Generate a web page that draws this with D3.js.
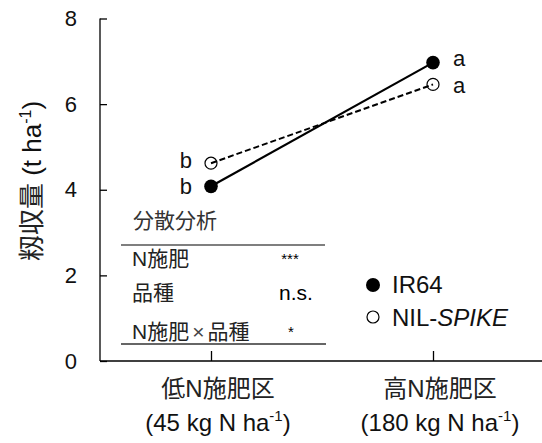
<!doctype html>
<html>
<head>
<meta charset="utf-8">
<script src="https://cdnjs.cloudflare.com/ajax/libs/d3/7.8.5/d3.min.js"></script>
<style>
  body { margin: 0; background: #fff; }
  svg { display: block; font-family: "Liberation Sans", Arial, "Noto Sans CJK JP", sans-serif; }
</style>
</head>
<body>
<svg width="542" height="443"></svg>
<script>
// data
var categories = ["低N施肥区", "高N施肥区"];
var catSub = ["45", "180"];
var ir64 = [4.08, 6.97];
var nilSpike = [4.62, 6.46];
var ir64Letters = ["b", "a"];
var nilLetters = ["b", "a"];
var yTicks = [0, 2, 4, 6, 8];
var anovaRows = ["N施肥", "品種", "N施肥×品種"];
var anovaSig = ["***", "n.s.", "*"];

var svg = d3.select("svg");
var x = d3.scalePoint().domain(categories).range([211, 433]);
var y = d3.scaleLinear().domain([0, 8]).range([361, 18.5]);

// axes
var yAxis = d3.axisLeft(y).tickValues(yTicks).tickSize(-7).tickPadding(23).tickFormat(d3.format("d"));
var gy = svg.append("g").attr("transform", "translate(100,0)").call(yAxis);
gy.select(".domain").attr("d", "M0," + y(8) + "V" + y(0)).attr("stroke-width", 1.3);
gy.selectAll(".tick line").attr("stroke-width", 1.3);
gy.selectAll(".tick text").attr("font-size", 22).attr("font-family", "Liberation Sans, Arial").attr("fill", "#111");

var xAxis = d3.axisBottom(x).tickSize(-10).tickFormat("");
var gx = svg.append("g").attr("transform", "translate(0," + y(0) + ")").call(xAxis);
gx.select(".domain").attr("d", "M100,0H542").attr("stroke-width", 1.3);
gx.selectAll(".tick line").attr("stroke-width", 1.3);

// x labels
categories.forEach(function (c, i) {
  var cx = x(c) + 7;
  svg.append("text").attr("x", cx).attr("y", 397).attr("text-anchor", "middle")
    .attr("font-size", 24).attr("fill", "#222").text(c);
  var t = svg.append("text").attr("x", cx).attr("y", 431).attr("text-anchor", "middle")
    .attr("font-size", 24).attr("fill", "#111");
  t.append("tspan").text("(" + catSub[i] + " kg N ha");
  t.append("tspan").attr("font-size", 15).attr("dy", -10).text("-1");
  t.append("tspan").attr("dy", 10).text(")");
});

// y label
var yl = svg.append("text").attr("transform", "translate(41,181) rotate(-90)")
  .attr("text-anchor", "middle").attr("font-size", 26).attr("fill", "#111");
yl.append("tspan").attr("fill", "#222").text("籾収量 ");
yl.append("tspan").text("(t ha");
yl.append("tspan").attr("font-size", 16).attr("dy", -10).text("-1");
yl.append("tspan").attr("dy", 10).text(")");

// markers
svg.selectAll(".m1").data(ir64).enter().append("circle")
  .attr("cx", function (d, i) { return x(categories[i]); })
  .attr("cy", function (d) { return y(d); })
  .attr("r", 6.8).attr("fill", "#000");
svg.selectAll(".m2").data(nilSpike).enter().append("circle")
  .attr("cx", function (d, i) { return x(categories[i]); })
  .attr("cy", function (d) { return y(d); })
  .attr("r", 6).attr("fill", "#fff").attr("stroke", "#000").attr("stroke-width", 1.2);

// lines
var line = d3.line().x(function (d, i) { return x(categories[i]); }).y(function (d) { return y(d); });
svg.append("path").datum(ir64).attr("d", line).attr("fill", "none").attr("stroke", "#000").attr("stroke-width", 2.2);
svg.append("path").datum(nilSpike).attr("d", line).attr("fill", "none").attr("stroke", "#000")
  .attr("stroke-width", 2).attr("stroke-dasharray", "6,3");

// significance letters: the upper one of each pair sits a little higher
categories.forEach(function (c, i) {
  var left = i === 0;
  var pairs = [[ir64[i], ir64Letters[i]], [nilSpike[i], nilLetters[i]]];
  var top = ir64[i] > nilSpike[i] ? 0 : 1;
  pairs.forEach(function (p, k) {
    svg.append("text").attr("x", x(c) + (left ? -19 : 20))
      .attr("y", y(p[0]) + (k === top ? (left ? 5 : 3) : (left ? 8 : 9)))
      .attr("text-anchor", left ? "end" : "start")
      .attr("font-size", 22).attr("fill", "#111").text(p[1]);
  });
});

// ANOVA table
svg.append("text").attr("x", 133).attr("y", 228).attr("font-size", 21).attr("fill", "#333").text("分散分析");
svg.append("line").attr("x1", 121).attr("x2", 325).attr("y1", 245).attr("y2", 245).attr("stroke", "#000").attr("stroke-width", 1.2);
var rowY = [266, 300, 339];
var sigX = [290, 296, 291];
anovaRows.forEach(function (r, i) {
  var t = svg.append("text").attr("x", 132).attr("y", rowY[i]).attr("font-size", 21).attr("fill", "#222");
  var parts = r.split("×");
  t.append("tspan").text(parts[0]);
  if (parts.length > 1) {
    t.append("tspan").attr("dx", 3).attr("fill", "#444").text("×");
    t.append("tspan").attr("dx", 3).text(parts[1]);
  }
  svg.append("text").attr("x", sigX[i]).attr("y", i === 1 ? rowY[i] : rowY[i] - 2)
    .attr("text-anchor", "middle").attr("font-size", i === 1 ? 21 : 15).text(anovaSig[i]);
});
svg.append("line").attr("x1", 121).attr("x2", 326).attr("y1", 344).attr("y2", 344).attr("stroke", "#333").attr("stroke-width", 1.4);

// legend
var lg = svg.append("g");
lg.append("circle").attr("cx", 373).attr("cy", 285).attr("r", 7).attr("fill", "#000");
lg.append("text").attr("x", 392).attr("y", 293).attr("font-size", 24).attr("fill", "#111").text("IR64");
lg.append("circle").attr("cx", 373).attr("cy", 317).attr("r", 6).attr("fill", "#fff").attr("stroke", "#000").attr("stroke-width", 1.2);
var nt = lg.append("text").attr("x", 392).attr("y", 326).attr("font-size", 24).attr("fill", "#111");
nt.append("tspan").text("NIL-");
nt.append("tspan").attr("font-style", "italic").text("SPIKE");
</script>
</body>
</html>
